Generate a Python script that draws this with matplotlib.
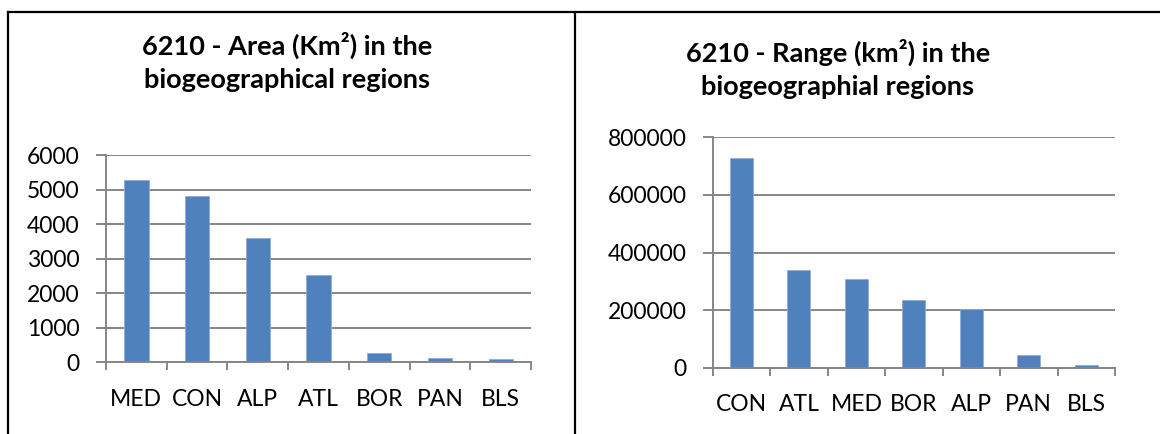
import numpy as np
import matplotlib.pyplot as plt
from matplotlib.lines import Line2D

plt.rcParams['font.family'] = ['Lato', 'DejaVu Sans']

# data
area_regions = ['MED', 'CON', 'ALP', 'ATL', 'BOR', 'PAN', 'BLS']
area_values = [5277, 4820, 3589, 2527, 260, 133, 95]

range_regions = ['CON', 'ATL', 'MED', 'BOR', 'ALP', 'PAN', 'BLS']
range_values = [728000, 339600, 308200, 234900, 203500, 45400, 8000]

BAR = '#4F81BD'
GRID = '#868686'

fig = plt.figure(figsize=(11.6, 4.34), dpi=100)
fig.patch.set_facecolor('white')

W, H = 1160, 434


def px_axes(x0, x1, ytop, ybot):
    return fig.add_axes([x0 / W, (H - ybot) / H, (x1 - x0) / W, (ybot - ytop) / H])


def style_axes(ax, cats, vals, ymax, step):
    x = np.arange(len(cats))
    ax.bar(x, vals, width=0.4, color=BAR, edgecolor='#8EAEDA', linewidth=0.6, zorder=3)
    ax.set_xlim(-0.5, len(cats) - 0.5)
    ax.set_ylim(0, ymax)
    ax.set_yticks(np.arange(0, ymax + 1, step))
    ax.set_yticklabels([f'{int(v)}' for v in np.arange(0, ymax + 1, step)])
    # boundary ticks as major, labels at centres as minor
    ax.set_xticks(np.arange(len(cats) + 1) - 0.5)
    ax.set_xticklabels([])
    ax.set_xticks(x, minor=True)
    ax.set_xticklabels(cats, minor=True)
    ax.tick_params(axis='x', which='major', length=6, width=1.4, color=GRID, direction='out')
    ax.tick_params(axis='x', which='minor', length=0, pad=19, labelsize=16.5)
    ax.tick_params(axis='y', length=7, width=1.4, color=GRID, pad=12, labelsize=16.5)
    ax.grid(True, axis='y', color=GRID, linewidth=1.4, zorder=0)
    for s in ['top', 'right']:
        ax.spines[s].set_visible(False)
    for s in ['left', 'bottom']:
        ax.spines[s].set_color(GRID)
        ax.spines[s].set_linewidth(1.4)
        ax.spines[s].set_zorder(4)


ax1 = px_axes(106, 531, 155, 362.3)
style_axes(ax1, area_regions, area_values, 6000, 1000)

ax2 = px_axes(712.7, 1115, 137.3, 367.7)
style_axes(ax2, range_regions, range_values, 800000, 200000)

# titles
fig.text(287 / W, 1 - 45 / H, '6210 - Area (Km²) in the', ha='center', va='center',
         fontsize=19.5, fontweight='bold')
fig.text(287 / W, 1 - 80 / H, 'biogeographical regions', ha='center', va='center',
         fontsize=19.5, fontweight='bold')
fig.text(838 / W, 1 - 52 / H, '6210 - Range (km²) in the', ha='center', va='center',
         fontsize=19.5, fontweight='bold')
fig.text(838 / W, 1 - 87 / H, 'biogeographial regions', ha='center', va='center',
         fontsize=19.5, fontweight='bold')

# table frame lines
frame = dict(color='black', linewidth=1.6, transform=fig.transFigure)
fig.add_artist(Line2D([8 / W, 1], [1 - 12 / H, 1 - 12 / H], **frame))
fig.add_artist(Line2D([8 / W, 8 / W], [0, 1 - 12 / H], **frame))
fig.add_artist(Line2D([575 / W, 575 / W], [0, 1 - 12 / H], **frame))

plt.savefig('out.png', dpi=100)
